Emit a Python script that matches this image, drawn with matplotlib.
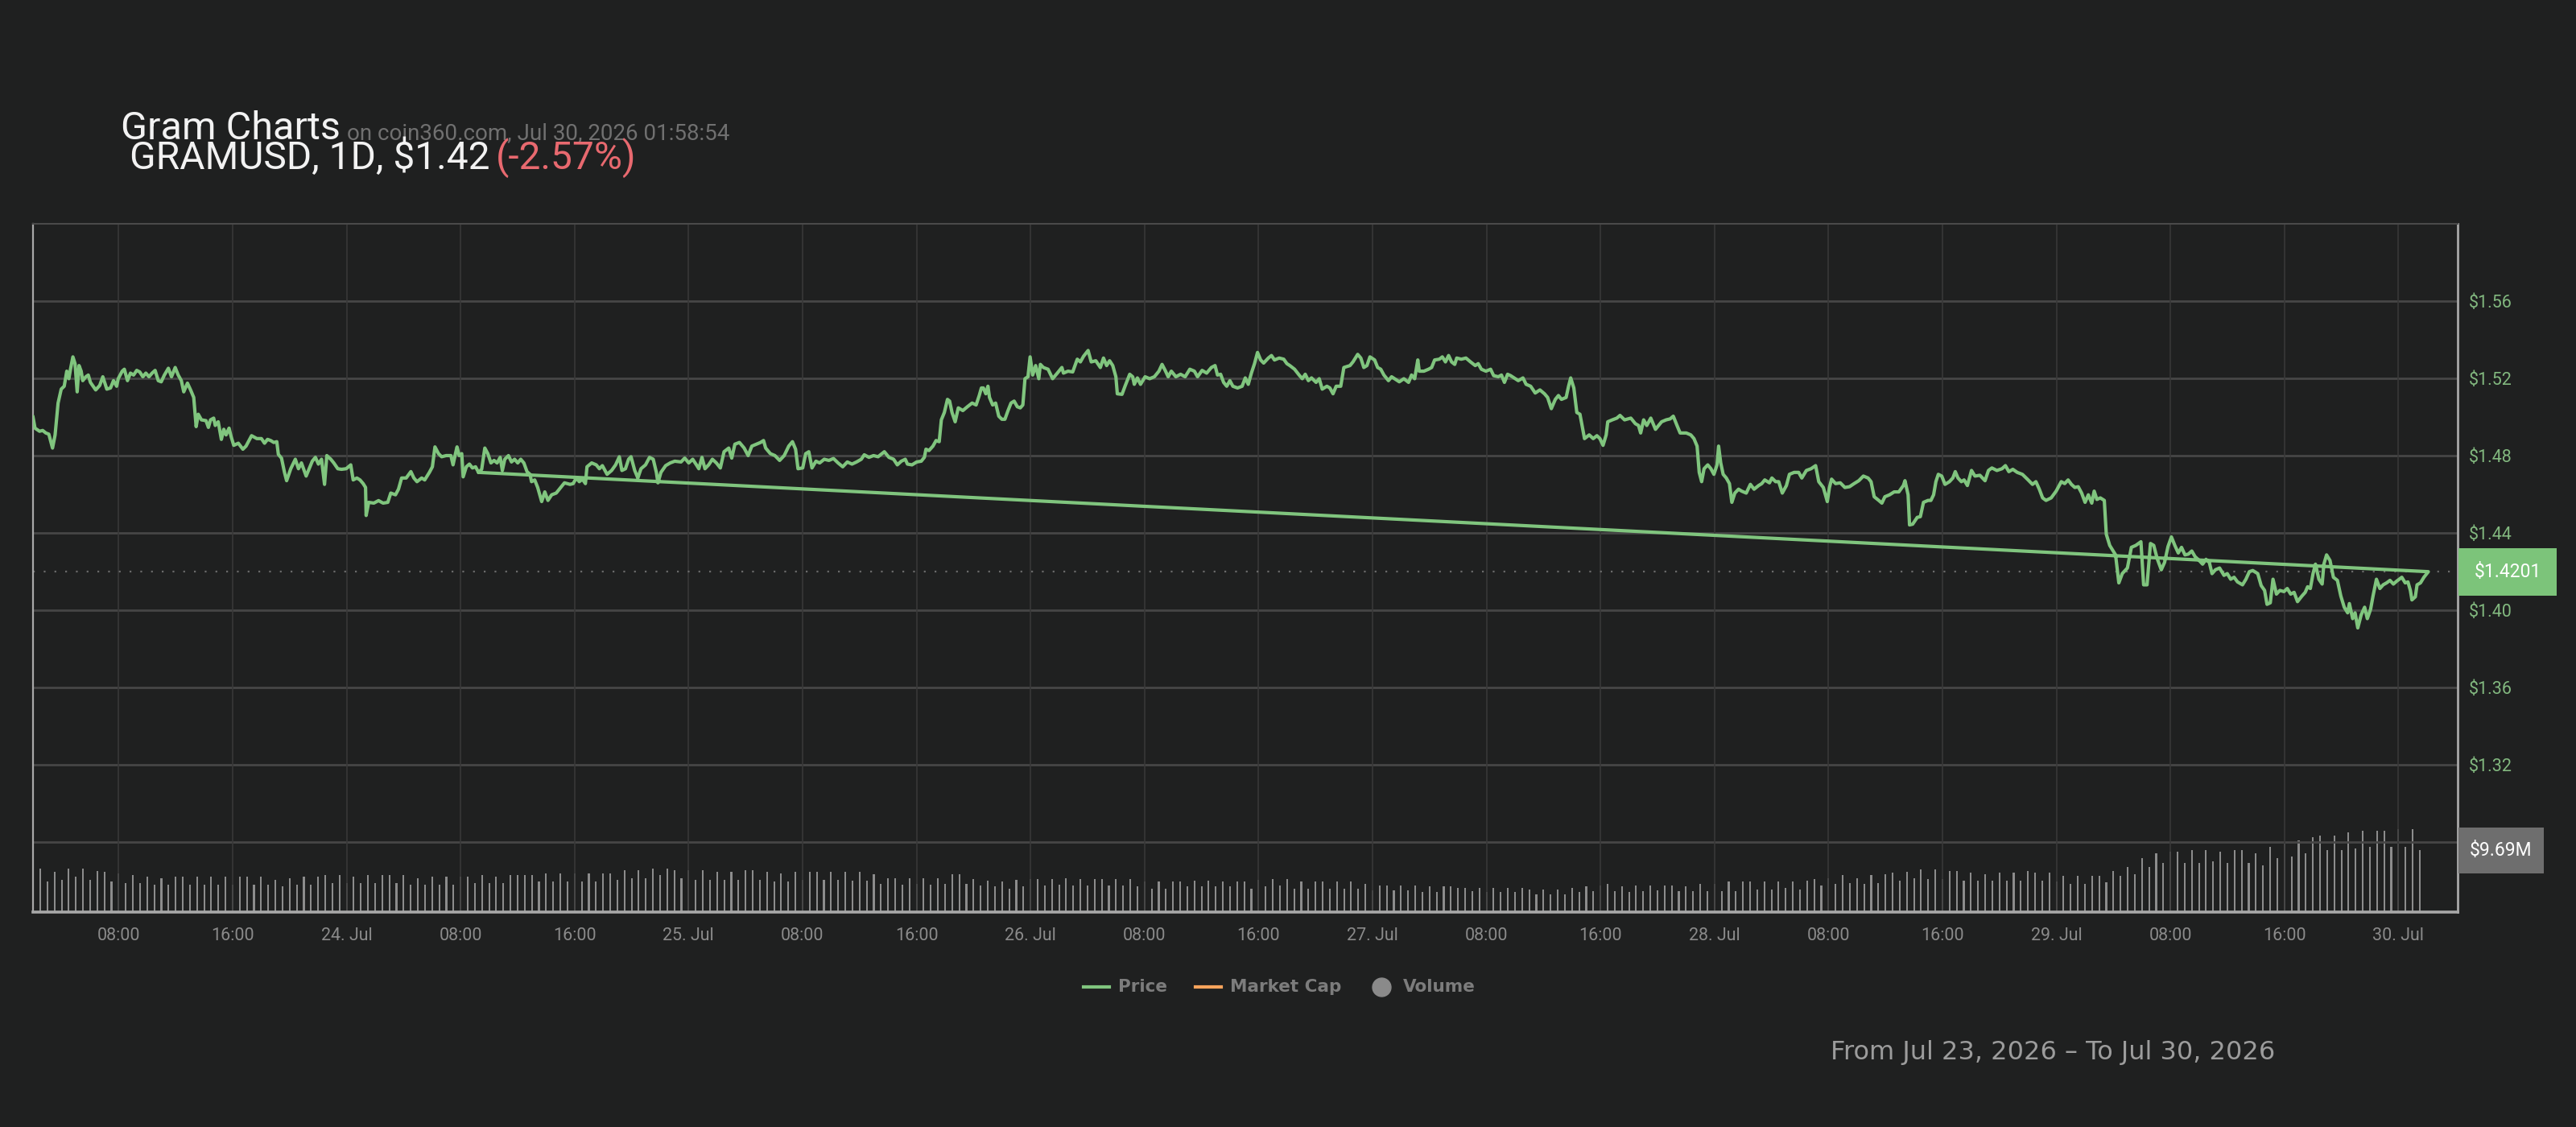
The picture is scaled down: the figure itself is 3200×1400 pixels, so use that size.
import matplotlib
matplotlib.use('Agg')
import matplotlib.pyplot as plt
from matplotlib.patches import Rectangle
from matplotlib.lines import Line2D

plt.rcParams['font.family'] = ['Roboto', 'DejaVu Sans']

# ---------------- data ----------------
# price trace: hours since 2026-07-23 00:00 and USD price
price_hours = [
    1.98, 2.13, 2.45, 2.67, 2.89, 3.10, 3.36, 3.54, 3.75, 3.97, 4.18, 4.36, 4.51, 4.62, 4.79, 4.94, 5.09, 5.22, 5.37, 5.48,
    5.70, 5.87, 6.02, 6.39, 6.67, 6.89, 7.17, 7.43, 7.64, 7.86, 7.97, 8.25, 8.40, 8.62, 8.83, 9.05, 9.27, 9.48, 9.70, 9.91,
    10.13, 10.35, 10.56, 10.78, 10.99, 11.21, 11.49, 11.71, 11.97, 12.18, 12.40, 12.57, 12.83, 13.05, 13.27, 13.44, 13.59, 13.81, 14.13, 14.30,
    14.45, 14.67, 14.78, 14.99, 15.21, 15.38, 15.54, 15.75, 15.90, 16.08, 16.40, 16.72, 16.94, 17.33, 17.70, 18.02, 18.24, 18.45, 18.67, 18.89,
    19.10, 19.21, 19.43, 19.64, 19.79, 20.08, 20.40, 20.62, 20.83, 21.16, 21.37, 21.59, 21.81, 22.02, 22.24, 22.45, 22.61, 22.89, 23.10, 23.38,
    23.64, 23.97, 24.29, 24.46, 24.72, 24.94, 25.16, 25.33, 25.37, 25.55, 25.91, 26.24, 26.56, 26.89, 27.10, 27.43, 27.64, 27.86, 28.18, 28.51,
    28.72, 28.94, 29.27, 29.48, 29.81, 30.02, 30.20, 30.45, 30.67, 30.99, 31.32, 31.47, 31.64, 31.75, 31.90, 32.08, 32.18, 32.40, 32.62, 32.83,
    33.05, 33.26, 33.48, 33.70, 33.91, 34.13, 34.35, 34.56, 34.78,
    34.93, 35.10, 35.36, 35.57, 35.79, 36.01, 36.22, 36.44, 36.66, 36.87, 36.98, 37.20, 37.41, 37.69, 37.91, 38.13, 38.39, 38.71, 39.03, 39.29,
    39.68, 39.90, 40.12, 40.33, 40.55, 40.76, 40.87, 41.20, 41.52, 41.74, 41.95, 42.28, 42.60, 42.88, 43.14, 43.32, 43.57, 43.79, 43.96, 44.22,
    44.44, 44.66, 44.98, 45.26, 45.52, 45.74, 45.85, 46.06, 46.39, 46.71, 47.03, 47.47, 47.73, 48.01, 48.29, 48.55, 48.72, 48.94, 49.15, 49.41,
    49.67, 49.95, 50.23, 50.49, 50.82, 51.03, 51.25, 51.57, 51.90, 52.18, 52.44, 52.76, 53.05, 53.26, 53.41, 53.74, 54.06, 54.39, 54.71, 55.03,
    55.29, 55.51, 55.68, 56.01, 56.22, 56.44, 56.66, 56.94, 57.20, 57.52, 57.85, 58.17, 58.49, 58.82, 59.14, 59.47, 59.79, 60.12, 60.33, 60.66,
    60.98, 61.30, 61.74, 62.06, 62.39, 62.65, 62.93, 63.21, 63.36, 63.68, 64.01, 64.33, 64.55, 64.66, 64.87, 65.15, 65.37, 65.59, 65.74, 65.95,
    66.17, 66.32, 66.49, 66.71, 66.93, 67.25, 67.57, 67.90, 68.18, 68.40, 68.55,
    68.69, 68.86, 69.01, 69.12, 69.34, 69.55, 69.77, 69.99, 70.20, 70.42, 70.63, 70.85, 71.07, 71.28, 71.46, 71.61, 71.82, 71.97, 72.15, 72.36,
    72.58, 72.69, 72.90, 73.23, 73.55, 73.88, 74.20, 74.31, 74.63, 74.96, 75.28, 75.50, 75.72, 76.04, 76.26, 76.58, 76.90, 77.12, 77.34, 77.55,
    77.77, 77.99, 78.09, 78.42, 78.63, 78.96, 79.17, 79.28, 79.50, 79.72, 80.04, 80.36, 80.69, 81.01, 81.23, 81.45, 81.66, 81.88, 82.20, 82.53,
    82.85, 83.18, 83.50, 83.72, 84.04, 84.36, 84.69, 84.95, 85.12, 85.34, 85.55, 85.77, 85.99, 86.20, 86.53, 86.85, 87.07, 87.28, 87.50, 87.72,
    87.93, 88.15, 88.36, 88.69, 88.91, 89.12, 89.45, 89.77, 89.99, 90.20, 90.53, 90.85, 91.07, 91.28, 91.50, 91.72, 92.04, 92.26, 92.47, 92.80,
    93.01, 93.23, 93.45, 93.77, 93.99, 94.42, 94.63, 94.96, 95.18, 95.39, 95.61, 95.82, 96.15, 96.36, 96.58, 96.80, 97.12, 97.34, 97.55, 97.88,
    98.20, 98.53, 98.74, 98.96, 99.18, 99.28, 99.61, 99.93, 100.15, 100.36, 100.69, 100.90, 101.12, 101.34, 101.55, 101.77,
    101.91, 102.23, 102.56, 102.88, 103.21, 103.42, 103.64, 103.96, 104.29, 104.50, 104.83, 105.05, 105.26, 105.48, 105.69, 106.02, 106.23, 106.56, 106.78, 107.10,
    107.42, 107.75, 108.07, 108.29, 108.55, 108.83, 109.05, 109.26, 109.59, 109.76, 109.91, 110.13, 110.34, 110.56, 110.88, 111.21, 111.49, 111.75, 111.96, 112.18,
    112.40, 112.51, 112.83, 113.15, 113.37, 113.69, 114.13, 114.45, 114.67, 114.82, 115.03, 115.25, 115.53, 115.86, 116.29, 116.61, 116.89, 117.11, 117.37, 117.59,
    118.02, 118.34, 118.56, 118.78, 118.93, 119.10, 119.27, 119.53, 119.75, 119.96, 120.18, 120.29, 120.44, 120.61, 120.83, 121.05, 121.22, 121.43, 121.69, 121.91,
    122.23, 122.52, 122.78, 123.10, 123.32, 123.53, 123.86, 124.03, 124.29, 124.51, 124.76, 125.05, 125.26, 125.59, 125.91, 126.13, 126.45, 126.78, 127.10, 127.32,
    127.64, 127.92, 128.07, 128.22, 128.50, 128.83, 129.15, 129.48, 129.80, 130.13, 130.45, 130.78, 130.99, 131.21, 131.53, 131.75, 131.96, 132.29, 132.61, 132.94,
    133.26, 133.37, 133.59, 133.69, 133.91, 134.23, 134.45, 134.67, 134.99,
    135.19, 135.38, 135.54, 135.71, 135.95, 136.18, 136.49, 136.73, 136.90, 137.09, 137.33, 137.52, 137.75, 138.04, 138.28, 138.63, 138.99, 139.23, 139.47, 139.82,
    140.18, 140.42, 140.66, 140.94, 141.25, 141.61, 141.96, 142.32, 142.56, 142.80, 143.03, 143.27, 143.63, 143.98, 144.34, 144.58, 144.82, 145.05, 145.29, 145.53,
    145.77, 146.01, 146.24, 146.48, 146.65, 146.84, 147.08, 147.36, 147.50, 147.74, 147.98, 148.15, 148.38, 148.62, 148.98, 149.26, 149.57, 149.93, 150.12, 150.36,
    150.60, 150.83, 151.07, 151.36, 151.59, 151.83, 152.07, 152.31, 152.55, 152.78, 153.02, 153.26, 153.50, 153.73, 154.02, 154.26, 154.50, 154.73, 154.92, 155.16,
    155.45, 155.76, 155.99, 156.23, 156.47, 156.71, 157.06, 157.30, 157.54, 157.78, 158.13, 158.37, 158.61, 158.78, 159.01, 159.20, 159.44, 159.68, 159.97, 160.20,
    160.44, 160.68, 160.92, 161.23, 161.46, 161.63, 161.82, 162.01, 162.18, 162.42, 162.65, 162.77, 162.96, 163.20, 163.44, 163.72, 163.96, 164.20, 164.44, 164.56,
    164.79, 164.96, 165.15, 165.39, 165.63, 165.82, 166.05, 166.22, 166.46, 166.70, 166.93, 167.17, 167.41, 167.65, 167.88, 168.24, 168.48, 168.67, 168.84, 168.95,
    169.19, 169.31, 169.55, 169.79, 170.10,
]
price_values = [
    1.5006, 1.4944, 1.4928, 1.4932, 1.4919, 1.4913, 1.4841, 1.4909, 1.5074, 1.5146, 1.5161, 1.5239, 1.5200, 1.5249, 1.5313, 1.5278, 1.5132, 1.5268, 1.5239, 1.5190,
    1.5210, 1.5219, 1.5181, 1.5142, 1.5165, 1.5210, 1.5146, 1.5152, 1.5190, 1.5161, 1.5200, 1.5239, 1.5249, 1.5190, 1.5229, 1.5219, 1.5243, 1.5235, 1.5210, 1.5229,
    1.5210, 1.5229, 1.5243, 1.5190, 1.5184, 1.5219, 1.5254, 1.5210, 1.5258, 1.5219, 1.5190, 1.5132, 1.5177, 1.5142, 1.5103, 1.4952, 1.5016, 1.4987, 1.4983, 1.4948,
    1.4987, 1.4996, 1.4958, 1.4977, 1.4886, 1.4938, 1.4909, 1.4944, 1.4899, 1.4855, 1.4866, 1.4835, 1.4851, 1.4905, 1.4890, 1.4890, 1.4866, 1.4886, 1.4880, 1.4870,
    1.4874, 1.4808, 1.4789, 1.4715, 1.4672, 1.4734, 1.4783, 1.4734, 1.4764, 1.4696, 1.4734, 1.4773, 1.4793, 1.4758, 1.4783, 1.4653, 1.4802, 1.4783, 1.4764, 1.4734,
    1.4731, 1.4734, 1.4754, 1.4676, 1.4686, 1.4676, 1.4657, 1.4637, 1.4492, 1.4560, 1.4556, 1.4569, 1.4556, 1.4560, 1.4608, 1.4599, 1.4628, 1.4686, 1.4686, 1.4719,
    1.4686, 1.4667, 1.4686, 1.4676, 1.4715, 1.4744, 1.4847, 1.4812, 1.4796, 1.4802, 1.4802, 1.4754, 1.4812, 1.4847, 1.4802, 1.4812, 1.4692, 1.4744, 1.4758, 1.4738,
    1.4744, 1.4715, 1.4731, 1.4841, 1.4812, 1.4764, 1.4777, 1.4764, 1.4793,
    1.4725, 1.4783, 1.4802, 1.4769, 1.4783, 1.4764, 1.4783, 1.4764, 1.4719, 1.4705, 1.4667, 1.4676, 1.4637, 1.4564, 1.4614, 1.4570, 1.4599, 1.4608, 1.4637, 1.4661,
    1.4653, 1.4657, 1.4686, 1.4667, 1.4680, 1.4657, 1.4744, 1.4764, 1.4754, 1.4734, 1.4750, 1.4705, 1.4725, 1.4754, 1.4796, 1.4725, 1.4734, 1.4783, 1.4796, 1.4725,
    1.4686, 1.4734, 1.4754, 1.4793, 1.4783, 1.4715, 1.4661, 1.4715, 1.4750, 1.4764, 1.4773, 1.4769, 1.4789, 1.4764, 1.4783, 1.4754, 1.4734, 1.4793, 1.4734, 1.4754,
    1.4783, 1.4764, 1.4738, 1.4822, 1.4841, 1.4789, 1.4861, 1.4870, 1.4841, 1.4802, 1.4851, 1.4861, 1.4870, 1.4880, 1.4841, 1.4812, 1.4802, 1.4777, 1.4802, 1.4851,
    1.4874, 1.4835, 1.4734, 1.4738, 1.4812, 1.4822, 1.4738, 1.4773, 1.4764, 1.4783, 1.4777, 1.4787, 1.4764, 1.4744, 1.4769, 1.4758, 1.4769, 1.4783, 1.4806, 1.4793,
    1.4802, 1.4796, 1.4822, 1.4793, 1.4783, 1.4754, 1.4773, 1.4783, 1.4758, 1.4754, 1.4769, 1.4773, 1.4793, 1.4835, 1.4828, 1.4851, 1.4880, 1.4874, 1.4987, 1.5025,
    1.5093, 1.5084, 1.5025, 1.4977, 1.5049, 1.5035, 1.5055, 1.5074, 1.5064, 1.5113, 1.5152,
    1.5152, 1.5122, 1.5161, 1.5103, 1.5064, 1.5074, 1.5006, 1.4990, 1.4990, 1.5035, 1.5074, 1.5084, 1.5055, 1.5049, 1.5064, 1.5200, 1.5210, 1.5313, 1.5219, 1.5268,
    1.5200, 1.5274, 1.5258, 1.5249, 1.5200, 1.5229, 1.5258, 1.5229, 1.5239, 1.5235, 1.5301, 1.5287, 1.5316, 1.5346, 1.5287, 1.5293, 1.5258, 1.5307, 1.5268, 1.5293,
    1.5268, 1.5210, 1.5122, 1.5119, 1.5161, 1.5223, 1.5210, 1.5171, 1.5204, 1.5171, 1.5210, 1.5200, 1.5210, 1.5239, 1.5274, 1.5243, 1.5210, 1.5239, 1.5210, 1.5223,
    1.5210, 1.5249, 1.5239, 1.5210, 1.5243, 1.5229, 1.5258, 1.5268, 1.5219, 1.5223, 1.5181, 1.5161, 1.5190, 1.5161, 1.5152, 1.5161, 1.5204, 1.5171, 1.5229, 1.5278,
    1.5336, 1.5297, 1.5281, 1.5307, 1.5320, 1.5297, 1.5307, 1.5301, 1.5278, 1.5268, 1.5249, 1.5219, 1.5200, 1.5223, 1.5190, 1.5204, 1.5181, 1.5200, 1.5146, 1.5161,
    1.5152, 1.5122, 1.5161, 1.5161, 1.5258, 1.5268, 1.5287, 1.5326, 1.5307, 1.5258, 1.5268, 1.5313, 1.5297, 1.5258, 1.5249, 1.5219, 1.5190, 1.5210, 1.5200, 1.5184,
    1.5200, 1.5181, 1.5219, 1.5200, 1.5297, 1.5239, 1.5239, 1.5249, 1.5258, 1.5297, 1.5301, 1.5313, 1.5287, 1.5320, 1.5287, 1.5274,
    1.5307, 1.5301, 1.5307, 1.5287, 1.5268, 1.5278, 1.5249, 1.5239, 1.5249, 1.5216, 1.5210, 1.5219, 1.5181, 1.5223, 1.5216, 1.5200, 1.5190, 1.5204, 1.5171, 1.5161,
    1.5126, 1.5142, 1.5122, 1.5103, 1.5045, 1.5093, 1.5113, 1.5093, 1.5103, 1.5161, 1.5204, 1.5152, 1.5025, 1.5016, 1.4890, 1.4909, 1.4890, 1.4905, 1.4890, 1.4855,
    1.4909, 1.4977, 1.4987, 1.4996, 1.5010, 1.4987, 1.4996, 1.4967, 1.4958, 1.4919, 1.4987, 1.4958, 1.4996, 1.4938, 1.4977, 1.4987, 1.4992, 1.5006, 1.4958, 1.4919,
    1.4919, 1.4909, 1.4890, 1.4851, 1.4715, 1.4667, 1.4734, 1.4754, 1.4734, 1.4705, 1.4754, 1.4851, 1.4764, 1.4705, 1.4686, 1.4657, 1.4560, 1.4608, 1.4628, 1.4618,
    1.4608, 1.4653, 1.4628, 1.4647, 1.4657, 1.4676, 1.4661, 1.4686, 1.4667, 1.4667, 1.4608, 1.4647, 1.4705, 1.4715, 1.4715, 1.4686, 1.4725, 1.4734, 1.4750, 1.4667,
    1.4637, 1.4564, 1.4637, 1.4680, 1.4657, 1.4661, 1.4637, 1.4641, 1.4657, 1.4672, 1.4696, 1.4686, 1.4667, 1.4589, 1.4570, 1.4556, 1.4589, 1.4599, 1.4614, 1.4614,
    1.4647, 1.4672, 1.4599, 1.4443, 1.4447, 1.4482, 1.4486, 1.4560, 1.4570,
    1.4570, 1.4599, 1.4667, 1.4705, 1.4696, 1.4653, 1.4667, 1.4686, 1.4719, 1.4686, 1.4667, 1.4676, 1.4647, 1.4725, 1.4696, 1.4700, 1.4672, 1.4725, 1.4738, 1.4725,
    1.4734, 1.4750, 1.4719, 1.4731, 1.4715, 1.4705, 1.4680, 1.4653, 1.4667, 1.4628, 1.4583, 1.4570, 1.4583, 1.4618, 1.4667, 1.4657, 1.4676, 1.4653, 1.4637, 1.4641,
    1.4608, 1.4560, 1.4599, 1.4556, 1.4618, 1.4575, 1.4583, 1.4570, 1.4395, 1.4337, 1.4308, 1.4288, 1.4143, 1.4191, 1.4220, 1.4327, 1.4337, 1.4356, 1.4133, 1.4133,
    1.4347, 1.4337, 1.4269, 1.4211, 1.4249, 1.4331, 1.4381, 1.4337, 1.4298, 1.4327, 1.4288, 1.4292, 1.4308, 1.4279, 1.4259, 1.4240, 1.4265, 1.4249, 1.4191, 1.4211,
    1.4220, 1.4182, 1.4191, 1.4162, 1.4172, 1.4148, 1.4133, 1.4162, 1.4201, 1.4207, 1.4191, 1.4129, 1.4104, 1.4032, 1.4040, 1.4162, 1.4085, 1.4104, 1.4098, 1.4114,
    1.4085, 1.4094, 1.4046, 1.4075, 1.4094, 1.4123, 1.4114, 1.4191, 1.4240, 1.4162, 1.4137, 1.4240, 1.4288, 1.4259, 1.4172, 1.4156, 1.4075, 1.4017, 1.3988, 1.4036,
    1.3958, 1.3988, 1.3910, 1.3978, 1.4017, 1.3958, 1.4007, 1.4075, 1.4162, 1.4114, 1.4133, 1.4143, 1.4156, 1.4137, 1.4152, 1.4172, 1.4143, 1.4148, 1.4104, 1.4055,
    1.4071, 1.4133, 1.4143, 1.4172, 1.4201,
]
# the source series closes back onto this earlier sample (straight segment)
return_hour = 33.26

# volume (USD millions), one bar every 30 minutes starting 2026-07-23 02:30
volume_start_hour = 2.5
volume_step_hours = 0.5
volume_musd = [
    6.85, 4.83, 6.34, 5.08, 6.85, 5.59, 6.85, 5.08, 6.43, 6.34, 4.83, 6.09, 4.58, 5.84, 4.58, 5.59, 4.33, 5.34, 4.33, 5.59,
    5.59, 4.33, 5.59, 4.33, 5.59, 4.33, 5.59, 4.33, 5.59, 5.59, 4.33, 5.59, 4.33, 5.08, 4.08, 5.34, 4.33, 5.59, 4.33, 5.59,
    5.84, 4.58, 5.84, 4.58, 5.59, 4.58, 5.84, 4.58, 5.84, 5.84, 4.58, 5.84, 4.33, 5.34, 4.33, 5.59, 4.33, 5.59, 4.33, 5.59,
    5.59, 4.58, 5.84, 4.58, 5.59, 4.58, 5.84, 5.84, 5.84, 5.84, 4.83, 6.09, 4.83, 6.09, 4.83, 6.09, 4.83, 6.09, 4.83, 6.09,
    6.09, 5.08, 6.60, 5.34, 6.60, 5.34, 6.85, 5.84, 6.85, 6.60, 5.34, 6.60, 5.08, 6.60, 5.08, 6.34, 5.08, 6.34, 5.08, 6.60,
    6.60, 5.08, 6.34, 4.83, 6.09, 4.83, 6.34, 5.08,
    6.34, 6.34, 4.99, 6.34, 4.99, 6.34, 4.87, 6.34, 4.87, 5.93, 4.40, 5.34, 5.34, 4.29, 5.34, 4.40, 5.34, 4.29, 5.34, 4.40,
    5.93, 5.93, 4.40, 5.17,
    4.17, 4.87, 3.99, 4.76, 3.70, 4.99, 3.99, 5.17, 5.17, 4.17, 5.17, 4.29, 5.34, 4.17, 5.17, 4.17, 5.17, 5.17, 4.17, 5.17,
    4.17, 5.17, 3.99, 4.76, 3.70, 4.76, 3.70, 4.76, 4.76, 3.99, 4.87, 3.99, 4.87, 3.99, 4.76, 3.99, 4.76, 4.76, 3.70, 4.99,
    3.99, 5.17, 4.17, 5.17, 3.70, 4.76, 3.70, 4.76, 4.76, 3.70, 4.76, 3.70, 4.76, 3.70, 4.40, 3.41, 4.17, 4.17, 3.41, 4.17,
    3.41, 4.17, 3.11, 3.99, 3.11, 3.99, 3.99,
    3.82, 3.82, 3.23, 3.82, 3.11, 3.82, 3.11, 3.82, 3.11, 3.82, 3.58, 2.82, 3.58, 2.82, 3.58, 2.82, 3.82, 3.11, 3.99, 3.23,
    4.17, 4.40, 3.29, 3.99, 3.11, 4.17, 3.29, 4.17, 3.41, 4.17, 4.17, 3.29, 3.99, 3.29, 4.40, 3.29, 4.40, 3.29, 4.76, 3.29,
    4.76, 4.76, 3.58, 4.76, 3.58, 4.76, 3.82, 4.76, 3.58, 4.87, 5.17, 4.17, 5.34, 4.40, 5.75, 4.58, 5.34, 4.40, 5.75, 4.58,
    5.93, 6.17, 4.87, 6.34, 5.34, 6.64,
    5.17, 6.64, 5.17, 6.46, 6.46, 4.87, 6.17, 4.87, 5.93, 4.87, 6.17, 4.87, 6.17, 4.87, 6.46, 6.17, 4.87, 6.17, 4.76, 5.70,
    4.40, 5.70, 4.40, 5.70, 5.70, 4.64, 6.46, 5.70, 7.11, 5.93, 8.40, 7.11, 9.22, 7.69, 9.45, 9.45, 7.69, 9.69, 7.69, 9.69,
    7.93, 9.45, 7.69, 9.69, 9.69, 7.69, 9.22, 7.34, 10.16, 8.40, 10.75, 8.69, 11.22, 9.22, 11.69, 11.92, 9.69, 11.92, 9.69, 12.51,
    9.98, 12.74, 10.16, 12.74, 12.74, 10.16, 12.98, 10.16, 12.98, 9.69,
]

y_ticks = [1.28, 1.32, 1.36, 1.40, 1.44, 1.48, 1.52, 1.56]
y_tick_labels = ['', '$1.32', '$1.36', '$1.40', '$1.44', '$1.48', '$1.52', '$1.56']
x_ticks = [8, 16, 24, 32, 40, 48, 56, 64, 72, 80, 88, 96, 104, 112, 120, 128, 136, 144, 152, 160, 168]
x_tick_labels = ['08:00', '16:00', '24. Jul', '08:00', '16:00', '25. Jul', '08:00', '16:00', '26. Jul',
                 '08:00', '16:00', '27. Jul', '08:00', '16:00', '28. Jul', '08:00', '16:00', '29. Jul',
                 '08:00', '16:00', '30. Jul']
last_price = 1.4201
last_volume = 9.69
legend_names = ['Price', 'Market Cap', 'Volume']

# ---------------- styling ----------------
BG = '#1f2020'
GREEN = '#80c57e'
W, H = 3200, 1400
fig = plt.figure(figsize=(W / 100, H / 100), dpi=100, facecolor=BG)

L, R, T, B = 41, 3053, 277.5, 1133
ax = fig.add_axes([L / W, 1 - B / H, (R - L) / W, (B - T) / H])
vax = ax.twinx()
ax.set_zorder(2)
vax.set_zorder(1)
ax.patch.set_visible(False)
vax.patch.set_visible(False)

ax.set_xlim(1.99, 172.16)
ax.set_ylim(1.2439, 1.6004)
vax.set_ylim(0, 107.9)

# volume bars
vol_hours = [volume_start_hour + i * volume_step_hours for i in range(len(volume_musd))]
vax.bar(vol_hours, volume_musd, width=0.12, color='#8c8c8c', linewidth=0)
vax.set_yticks([])
for s in vax.spines.values():
    s.set_visible(False)

# grid
for yv in y_ticks:
    ax.axhline(yv, color='#464646', lw=2.0, zorder=0)
for xv in x_ticks:
    ax.axvline(xv, color='#383838', lw=1.2, zorder=0)

# dotted last-price line
ax.axhline(last_price, color='#6a6a6a', lw=1.6, ls=(0, (1, 5)), zorder=1)

# price line (series returns to an earlier sample at its end)
k = price_hours.index(return_hour)
line_x = price_hours + [price_hours[k]]
line_y = price_values + [price_values[k]]
ax.plot(line_x, line_y, color=GREEN, lw=3.0, solid_joinstyle='round', solid_capstyle='round', zorder=3)

# axes ticks
ax.yaxis.tick_right()
ax.set_yticks(y_ticks)
ax.set_yticklabels(y_tick_labels)
ax.set_xticks(x_ticks)
ax.set_xticklabels(x_tick_labels)
ax.tick_params(axis='y', length=0, pad=10, labelsize=15.5, labelcolor='#82b87f', right=False, left=False)
ax.tick_params(axis='x', length=0, pad=14, labelsize=15.5, labelcolor='#8a8a8a')

ax.spines['left'].set_color('#a8a8a8')
ax.spines['left'].set_linewidth(1.6)
ax.spines['right'].set_color('#a8a8a8')
ax.spines['right'].set_linewidth(2.0)
ax.spines['top'].set_color('#4a4a4a')
ax.spines['top'].set_linewidth(1.5)
ax.spines['bottom'].set_color('#a8a8a8')
ax.spines['bottom'].set_linewidth(2.6)

# value flags on the right
def add_flag(yc_disp, x0, w, h, face, text):
    fig.add_artist(Rectangle((x0 / W, (yc_disp - h / 2) / H), w / W, h / H,
                             transform=fig.transFigure, facecolor=face, edgecolor='none', zorder=5))
    fig.text((x0 + w / 2) / W, yc_disp / H, text, ha='center', va='center', color='white',
             fontsize=16.5, zorder=6)

yc_price = ax.transData.transform((0, last_price))[1]
add_flag(yc_price, 3054, 122, 59, '#7cc47a', '$' + f'{last_price:.4f}')
yc_vol = vax.transData.transform((0, last_volume))[1]
add_flag(yc_vol, 3054, 106, 57, '#6e6e6e', '$' + f'{last_volume:.2f}M')

# titles
fig.text(150 / W, 1 - 173 / H, 'Gram Charts', fontsize=35, color='#f2f2f2', va='baseline')
fig.text(431 / W, 1 - 173 / H, 'on coin360.com, Jul 30, 2026 01:58:54', fontsize=20, color='#707070', va='baseline')
fig.text(161 / W, 1 - 210 / H, 'GRAMUSD, 1D, $1.42', fontsize=34.5, color='#f2f2f2', va='baseline')
fig.text(616 / W, 1 - 210 / H, '(-2.57%)', fontsize=34.5, color='#e8696f', va='baseline')

# legend
ly = 1 - 1226 / H
fig.add_artist(Line2D([1346 / W, 1378 / W], [ly, ly], color=GREEN, lw=3, transform=fig.transFigure))
fig.text(1389 / W, ly, legend_names[0], fontsize=15.5, color='#7c7c7c', fontweight='bold',
         family='DejaVu Sans', va='center')
fig.add_artist(Line2D([1485 / W, 1517 / W], [ly, ly], color='#f7a35c', lw=3, transform=fig.transFigure))
fig.text(1528 / W, ly, legend_names[1], fontsize=15.5, color='#7c7c7c', fontweight='bold',
         family='DejaVu Sans', va='center')
fig.add_artist(Line2D([1716 / W], [ly], marker='o', markersize=16.5, color='#8a8a8a', lw=0,
                      transform=fig.transFigure))
fig.text(1743 / W, ly, legend_names[2], fontsize=15.5, color='#7c7c7c', fontweight='bold',
         family='DejaVu Sans', va='center')

# range caption
fig.text(2274 / W, 1 - 1316 / H, 'From Jul 23, 2026 \u2013 To Jul 30, 2026', fontsize=23,
         color='#9c9c9c', family='DejaVu Sans', va='baseline')

fig.savefig('out.png', dpi=100, facecolor=BG)
